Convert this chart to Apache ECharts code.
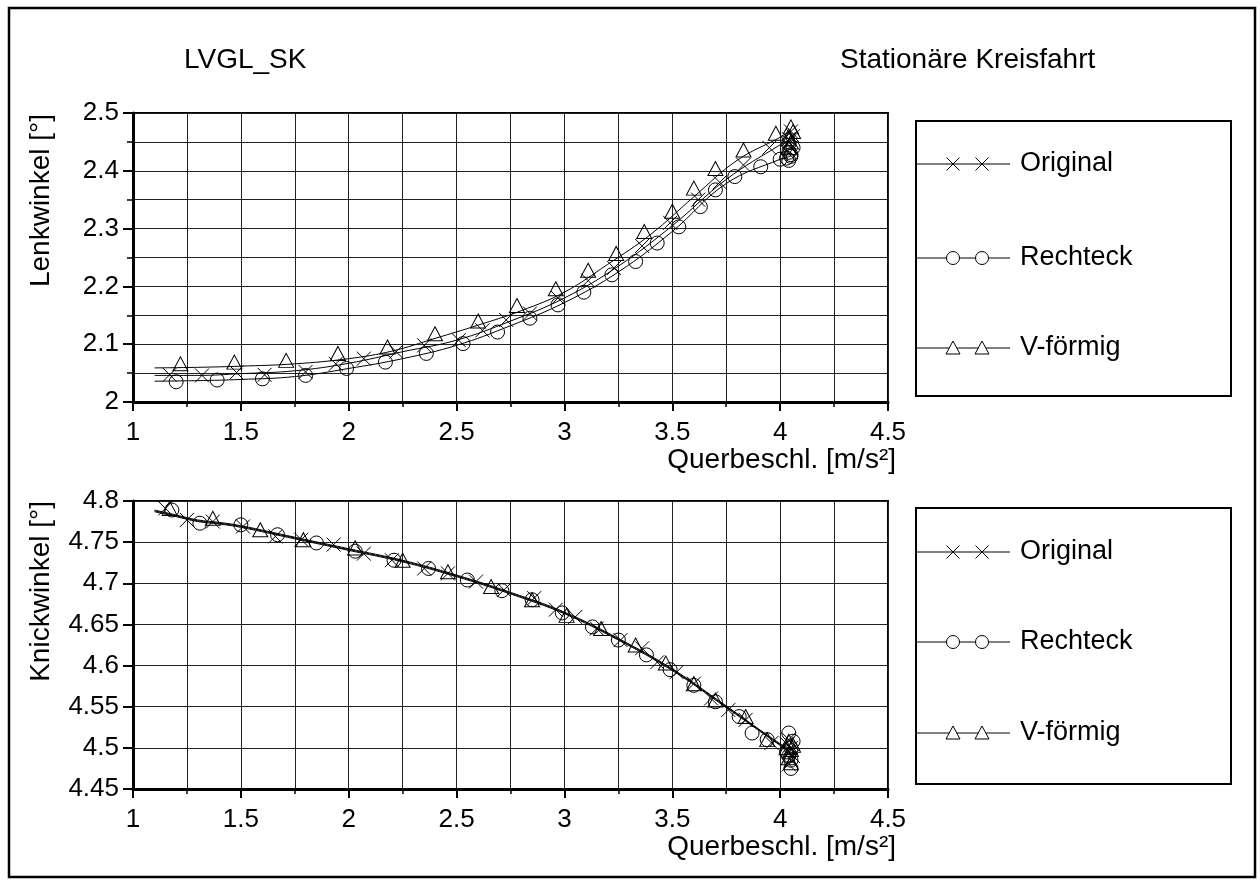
<!DOCTYPE html>
<html>
<head>
<meta charset="utf-8">
<script src="https://cdn.jsdelivr.net/npm/echarts@6/dist/echarts.min.js"></script>
<style>
html,body{margin:0;padding:0;background:#fff;}
#chart{width:1260px;height:880px;}
</style>
</head>
<body>
<div id="chart"></div>
<script>
// ---------- data ----------
const seriesNames = ['Original', 'Rechteck', 'V-förmig'];
const titleLeft = 'LVGL_SK';
const titleRight = 'Stationäre Kreisfahrt';
const xName = 'Querbeschl. [m/s²]';
const yNameTop = 'Lenkwinkel [°]';
const yNameBottom = 'Knickwinkel [°]';

// Top plot: Lenkwinkel — smooth curves
const topCurveOriginal = [[1.10,2.046],[1.30,2.046],[1.50,2.049],[1.75,2.054],[2.00,2.067],[2.25,2.087],[2.50,2.107],[2.75,2.140],[3.00,2.180],[3.25,2.235],[3.50,2.305],[3.75,2.385],[4.00,2.445],[4.05,2.455]];
const topCurveRechteck = [[1.10,2.036],[1.30,2.037],[1.50,2.039],[1.75,2.044],[2.00,2.058],[2.25,2.075],[2.50,2.098],[2.75,2.132],[3.00,2.172],[3.25,2.225],[3.50,2.295],[3.75,2.378],[4.00,2.420],[4.05,2.425]];
const topCurveV = [[1.10,2.059],[1.30,2.060],[1.50,2.062],[1.75,2.066],[2.00,2.075],[2.20,2.088],[2.40,2.110],[2.60,2.133],[2.80,2.158],[3.00,2.190],[3.20,2.238],[3.40,2.290],[3.60,2.355],[3.80,2.418],[4.00,2.458],[4.05,2.470]];

// Top plot: markers
const topMarkOriginal = [[1.17,2.047],[1.32,2.046],[1.48,2.051],[1.61,2.047],[1.80,2.052],[1.94,2.066],[2.07,2.075],[2.22,2.087],[2.35,2.098],[2.51,2.107],[2.62,2.124],[2.73,2.142],[2.84,2.153],[2.97,2.180],[3.11,2.210],[3.23,2.232],[3.36,2.270],[3.49,2.310],[3.62,2.350],[3.72,2.380],[3.83,2.410],[3.95,2.440],
  [4.04,2.430],[4.05,2.440],[4.04,2.450],[4.06,2.460],[4.05,2.468],[4.04,2.455]];
const topMarkRechteck = [[1.20,2.035],[1.39,2.038],[1.60,2.040],[1.80,2.046],[1.99,2.058],[2.17,2.069],[2.36,2.084],[2.53,2.101],[2.69,2.121],[2.84,2.145],[2.97,2.168],[3.09,2.190],[3.22,2.220],[3.33,2.243],[3.43,2.275],[3.53,2.303],[3.63,2.338],[3.70,2.367],[3.79,2.390],[3.91,2.407],[4.00,2.420],
  [4.04,2.418],[4.05,2.425],[4.04,2.432],[4.06,2.440],[4.05,2.428],[4.03,2.422]];
const topMarkV = [[1.22,2.066],[1.47,2.069],[1.71,2.072],[1.95,2.084],[2.18,2.095],[2.40,2.118],[2.60,2.140],[2.78,2.167],[2.96,2.196],[3.11,2.228],[3.24,2.257],[3.37,2.295],[3.50,2.330],[3.60,2.370],[3.70,2.404],[3.83,2.436],[3.98,2.465],
  [4.04,2.440],[4.05,2.450],[4.04,2.460],[4.06,2.468],[4.05,2.476],[4.04,2.455]];

// Bottom plot: Knickwinkel — smooth curves
const botCurveOriginal = [[1.10,4.788],[1.20,4.782],[1.30,4.776],[1.40,4.773],[1.50,4.769],[1.75,4.755],[2.00,4.741],[2.25,4.727],[2.50,4.709],[2.75,4.688],[3.00,4.664],[3.25,4.632],[3.50,4.595],[3.75,4.550],[4.00,4.504],[4.05,4.497]];
const botCurveRechteck = [[1.10,4.787],[1.20,4.781],[1.30,4.775],[1.40,4.772],[1.50,4.768],[1.75,4.754],[2.00,4.740],[2.25,4.726],[2.50,4.708],[2.75,4.687],[3.00,4.663],[3.25,4.631],[3.50,4.594],[3.75,4.549],[4.00,4.503],[4.05,4.495]];
const botCurveV = [[1.10,4.789],[1.20,4.783],[1.30,4.777],[1.40,4.774],[1.50,4.770],[1.75,4.756],[2.00,4.742],[2.25,4.728],[2.50,4.710],[2.75,4.689],[3.00,4.665],[3.25,4.633],[3.50,4.596],[3.75,4.551],[4.00,4.505],[4.05,4.499]];

// Bottom plot: markers
const botMarkOriginal = [[1.15,4.791],[1.25,4.777],[1.37,4.775],[1.51,4.769],[1.66,4.757],[1.78,4.753],[1.93,4.747],[2.07,4.736],[2.20,4.728],[2.35,4.718],[2.46,4.712],[2.59,4.702],[2.72,4.692],[2.86,4.682],[2.96,4.668],[3.05,4.659],[3.15,4.645],[3.26,4.631],[3.36,4.621],[3.43,4.604],[3.52,4.592],[3.60,4.578],[3.68,4.560],[3.76,4.546],[3.84,4.534],[3.96,4.506],
  [4.03,4.505],[4.04,4.495],[4.05,4.485],[4.04,4.510],[4.06,4.490],[4.05,4.500],[4.04,4.480]];
const botMarkRechteck = [[1.18,4.789],[1.31,4.773],[1.50,4.771],[1.67,4.759],[1.85,4.749],[2.03,4.739],[2.21,4.728],[2.37,4.718],[2.55,4.704],[2.71,4.691],[2.85,4.680],[2.99,4.664],[3.13,4.647],[3.25,4.631],[3.38,4.613],[3.49,4.595],[3.60,4.576],[3.70,4.556],[3.81,4.538],[3.87,4.518],[3.94,4.510],
  [4.04,4.518],[4.05,4.500],[4.04,4.490],[4.05,4.475],[4.06,4.508],[4.03,4.495],[4.05,4.485]];
const botMarkV = [[1.17,4.791],[1.37,4.779],[1.59,4.765],[1.79,4.753],[2.03,4.743],[2.25,4.728],[2.46,4.714],[2.66,4.696],[2.85,4.680],[3.01,4.661],[3.17,4.645],[3.33,4.625],[3.47,4.603],[3.60,4.578],[3.70,4.558],[3.84,4.538],[3.94,4.510],
  [4.04,4.508],[4.05,4.498],[4.04,4.488],[4.06,4.503],[4.05,4.482],[4.03,4.500]];

// ---------- styling ----------
const FONT = 'Liberation Sans, Arial, sans-serif';
const xSym = 'path://M0,0L10,10M10,0L0,10';
const symbols = [xSym, 'circle', 'triangle'];
const fmt = v => String(Math.round(v * 100) / 100);

function xAxisCfg(gridIndex) {
  return {
    type: 'value', gridIndex, min: 1, max: 4.5, interval: 0.5,
    axisLine: { show: true, onZero: false, lineStyle: { color: '#000', width: 3 } },
    axisTick: { show: true, length: 9, lineStyle: { color: '#000', width: 2 } },
    minorTick: { show: true, splitNumber: 2, length: 5, lineStyle: { color: '#000', width: 1.5 } },
    splitLine: { show: true, lineStyle: { color: '#222', width: 1 } },
    minorSplitLine: { show: true, lineStyle: { color: '#222', width: 1 } },
    axisLabel: { fontSize: 26, color: '#000', fontFamily: FONT, margin: 18, formatter: fmt }
  };
}

function curveSeries(data, xi, name) {
  return { type: 'line', name, xAxisIndex: xi, yAxisIndex: xi, data, smooth: 0.4, showSymbol: false,
    symbol: 'none', lineStyle: { color: '#000', width: 1 }, z: 3, silent: true };
}
function markSeries(data, xi, k, name) {
  return { type: 'scatter', name, xAxisIndex: xi, yAxisIndex: xi, data, symbol: symbols[k],
    symbolSize: k === 2 ? [15, 14] : 14,
    itemStyle: { color: 'none', borderColor: '#000', borderWidth: 1, opacity: 1 }, z: 4, silent: true };
}

// legend drawn as graphic inside a box
function legendGraphics(boxTop, boxH, rowsY) {
  const g = [{ type: 'rect', shape: { x: 916, y: boxTop, width: 315, height: boxH },
    style: { fill: 'none', stroke: '#000', lineWidth: 2 } }];
  rowsY.forEach((y, k) => {
    g.push({ type: 'line', shape: { x1: 917, y1: y, x2: 1010, y2: y }, style: { stroke: '#000', lineWidth: 1 } });
    [953, 982].forEach(cx => {
      if (k === 0) {
        g.push({ type: 'line', shape: { x1: cx - 6.5, y1: y - 6.5, x2: cx + 6.5, y2: y + 6.5 }, style: { stroke: '#000', lineWidth: 1 } });
        g.push({ type: 'line', shape: { x1: cx - 6.5, y1: y + 6.5, x2: cx + 6.5, y2: y - 6.5 }, style: { stroke: '#000', lineWidth: 1 } });
      } else if (k === 1) {
        g.push({ type: 'circle', shape: { cx, cy: y, r: 6.5 }, style: { fill: '#fff', stroke: '#000', lineWidth: 1 } });
      } else {
        g.push({ type: 'polygon', shape: { points: [[cx, y - 7], [cx + 7, y + 6], [cx - 7, y + 6]] }, style: { fill: '#fff', stroke: '#000', lineWidth: 1 } });
      }
    });
    g.push({ type: 'text', x: 1020, y, style: { text: seriesNames[k], font: '27px ' + FONT, fill: '#000', textAlign: 'left', textVerticalAlign: 'middle' } });
  });
  return g;
}

const graphics = [
  { type: 'rect', shape: { x: 9, y: 8, width: 1246, height: 869 }, style: { fill: 'none', stroke: '#000', lineWidth: 2.5 } },
  { type: 'text', x: 184, y: 60, style: { text: titleLeft, font: '28px ' + FONT, fill: '#000', textAlign: 'left', textVerticalAlign: 'middle' } },
  { type: 'text', x: 840, y: 60, style: { text: titleRight, font: '28px ' + FONT, fill: '#000', textAlign: 'left', textVerticalAlign: 'middle' } },
  { type: 'text', x: 896, y: 460, style: { text: xName, font: '28px ' + FONT, fill: '#000', textAlign: 'right', textVerticalAlign: 'middle' } },
  { type: 'text', x: 896, y: 847, style: { text: xName, font: '28px ' + FONT, fill: '#000', textAlign: 'right', textVerticalAlign: 'middle' } },
  { type: 'text', x: 41, y: 114, rotation: Math.PI / 2, style: { text: yNameTop, font: '28px ' + FONT, fill: '#000', textAlign: 'right', textVerticalAlign: 'middle' } },
  { type: 'text', x: 41, y: 501, rotation: Math.PI / 2, style: { text: yNameBottom, font: '28px ' + FONT, fill: '#000', textAlign: 'right', textVerticalAlign: 'middle' } }
].concat(legendGraphics(121, 275, [164, 258, 348]), legendGraphics(508, 276, [552, 642, 733]));

const option = {
  animation: false,
  backgroundColor: '#fff',
  grid: [
    { left: 133, top: 113, width: 755, height: 289, show: true, borderColor: '#000', borderWidth: 2, backgroundColor: 'transparent' },
    { left: 133, top: 501, width: 755, height: 288, show: true, borderColor: '#000', borderWidth: 2, backgroundColor: 'transparent' }
  ],
  xAxis: [xAxisCfg(0), xAxisCfg(1)],
  yAxis: [
    { type: 'value', gridIndex: 0, min: 2, max: 2.5, interval: 0.1,
      axisLine: { show: true, onZero: false, lineStyle: { color: '#000', width: 3 } },
      axisTick: { show: true, length: 10, lineStyle: { color: '#000', width: 2 } },
      minorTick: { show: true, splitNumber: 2, length: 6, lineStyle: { color: '#000', width: 1.5 } },
      splitLine: { show: true, lineStyle: { color: '#222', width: 1 } },
      minorSplitLine: { show: true, lineStyle: { color: '#222', width: 1 } },
      axisLabel: { fontSize: 26, color: '#000', fontFamily: FONT, margin: 14, formatter: fmt } },
    { type: 'value', gridIndex: 1, min: 4.45, max: 4.8, interval: 0.05,
      axisLine: { show: true, onZero: false, lineStyle: { color: '#000', width: 3 } },
      axisTick: { show: true, length: 10, lineStyle: { color: '#000', width: 2 } },
      splitLine: { show: true, lineStyle: { color: '#222', width: 1 } },
      axisLabel: { fontSize: 26, color: '#000', fontFamily: FONT, margin: 14, formatter: fmt } }
  ],
  series: [
    curveSeries(topCurveOriginal, 0, seriesNames[0]),
    curveSeries(topCurveRechteck, 0, seriesNames[1]),
    curveSeries(topCurveV, 0, seriesNames[2]),
    markSeries(topMarkOriginal, 0, 0, seriesNames[0]),
    markSeries(topMarkRechteck, 0, 1, seriesNames[1]),
    markSeries(topMarkV, 0, 2, seriesNames[2]),
    curveSeries(botCurveOriginal, 1, seriesNames[0]),
    curveSeries(botCurveRechteck, 1, seriesNames[1]),
    curveSeries(botCurveV, 1, seriesNames[2]),
    markSeries(botMarkOriginal, 1, 0, seriesNames[0]),
    markSeries(botMarkRechteck, 1, 1, seriesNames[1]),
    markSeries(botMarkV, 1, 2, seriesNames[2])
  ],
  graphic: graphics
};

const chart = echarts.init(document.getElementById('chart'), null, { renderer: 'canvas' });
chart.setOption(option);
</script>
</body>
</html>
